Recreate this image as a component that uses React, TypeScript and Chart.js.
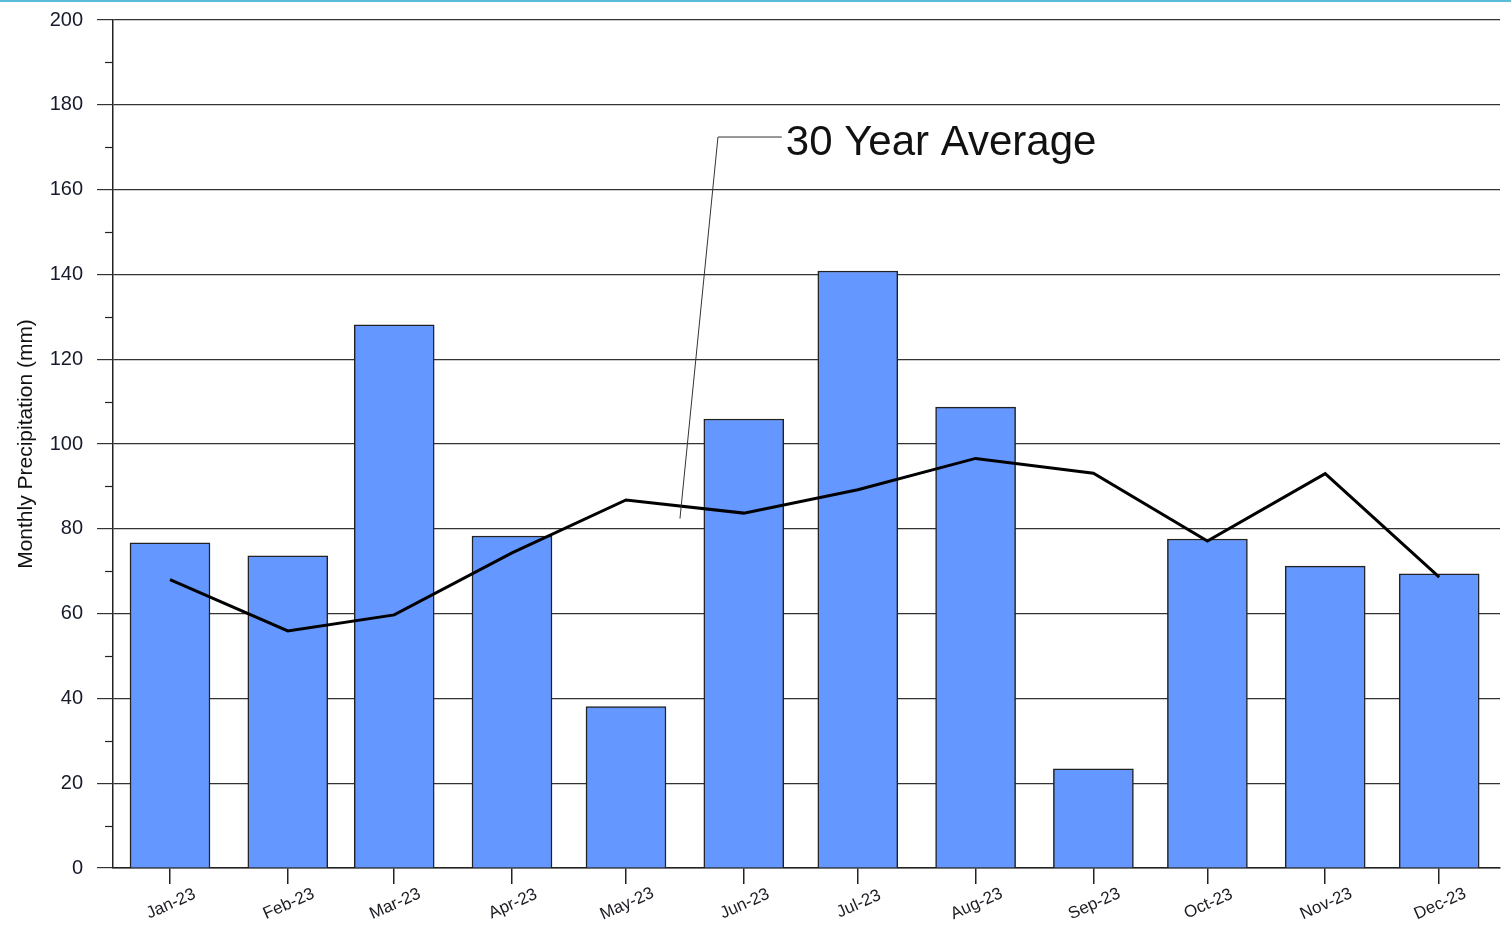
import React, { useEffect, useRef } from "react";
import { Chart, registerables } from "chart.js";

Chart.register(...registerables);

const monthLabels = ["Jan-23", "Feb-23", "Mar-23", "Apr-23", "May-23", "Jun-23", "Jul-23", "Aug-23", "Sep-23", "Oct-23", "Nov-23", "Dec-23"];
// day of year (mid-month) for each category
const monthDays = [15, 46, 74, 105, 135, 166, 196, 227, 258, 288, 319, 349];
const monthlyPrecip = [76.7, 73.6, 128.1, 78.3, 38.1, 105.9, 140.8, 108.7, 23.4, 77.6, 71.2, 69.4];
const thirtyYearAvg = [68.0, 55.9, 59.7, 74.3, 86.8, 83.7, 89.2, 96.6, 93.1, 77.1, 93.0, 68.6];
const yMajorTicks = [0, 20, 40, 60, 80, 100, 120, 140, 160, 180, 200];
const yMinorTicks = [10, 30, 50, 70, 90, 110, 130, 150, 170, 190];
const calloutText = "30 Year Average";
// callout leader path in data units (day, mm)
const calloutAnchor = { x: 149.2, y: 82.4 };
const calloutElbow = { x: 159.2, y: 172.4 };
const calloutEndX = 176.0;

const FONT = "'Liberation Sans', Arial, Helvetica, sans-serif";

const customDraw = {
  id: "customDraw",
  afterDraw(chart: any) {
    const ctx = chart.ctx;
    const xs = chart.scales.x;
    const ys = chart.scales.y;
    ctx.save();
    // minor y ticks
    ctx.strokeStyle = "#222";
    ctx.lineWidth = 1.2;
    for (const v of yMinorTicks) {
      const py = Math.round(ys.getPixelForValue(v)) + 0.5;
      ctx.beginPath();
      ctx.moveTo(xs.left - 8, py);
      ctx.lineTo(xs.left, py);
      ctx.stroke();
    }
    // x labels, rotated and centred on tick
    ctx.fillStyle = "#1a1a22";
    ctx.font = `17px ${FONT}`;
    ctx.textAlign = "center";
    ctx.textBaseline = "middle";
    monthDays.forEach((d, i) => {
      const px = xs.getPixelForValue(d);
      ctx.save();
      ctx.translate(px + 1, ys.bottom + 36);
      ctx.rotate((-24 * Math.PI) / 180);
      ctx.fillText(monthLabels[i], 0, 0);
      ctx.restore();
    });
    // callout
    ctx.strokeStyle = "#333";
    ctx.lineWidth = 1;
    ctx.beginPath();
    ctx.moveTo(xs.getPixelForValue(calloutAnchor.x), ys.getPixelForValue(calloutAnchor.y));
    ctx.lineTo(xs.getPixelForValue(calloutElbow.x), ys.getPixelForValue(calloutElbow.y));
    ctx.lineTo(xs.getPixelForValue(calloutEndX), ys.getPixelForValue(calloutElbow.y));
    ctx.stroke();
    ctx.fillStyle = "#111";
    ctx.font = `42px ${FONT}`;
    ctx.textAlign = "left";
    ctx.textBaseline = "middle";
    ctx.fillText(calloutText, xs.getPixelForValue(calloutEndX) + 4, ys.getPixelForValue(calloutElbow.y) + 6);
    ctx.restore();
  },
};

export default function App() {
  const ref = useRef<HTMLCanvasElement | null>(null);
  useEffect(() => {
    document.body.style.margin = "0";
    const chart = new Chart(ref.current as HTMLCanvasElement, {
      type: "bar",
      data: {
        datasets: [
          {
            type: "line",
            label: "30 Year Average",
            data: monthDays.map((d, i) => ({ x: d, y: thirtyYearAvg[i] })),
            borderColor: "#000",
            borderWidth: 3,
            pointRadius: 0,
            tension: 0,
            order: 0,
          } as any,
          {
            type: "bar",
            label: "Monthly Precipitation",
            data: monthDays.map((d, i) => ({ x: d, y: monthlyPrecip[i] })),
            backgroundColor: "#6497ff",
            borderColor: "#222",
            borderWidth: 1.5,
            barThickness: 80,
            order: 1,
          } as any,
        ],
      },
      options: {
        animation: false,
        responsive: false,
        maintainAspectRatio: false,
        layout: { padding: { top: 20, right: 11, left: 0, bottom: 0 } },
        plugins: { legend: { display: false }, tooltip: { enabled: false } },
        scales: {
          x: {
            type: "linear",
            min: 0,
            max: 365,
            offset: false,
            afterBuildTicks: (scale: any) => {
              scale.ticks = monthDays.map((v) => ({ value: v }));
            },
            afterFit: (scale: any) => {
              scale.height = 62;
              scale.paddingLeft = 0;
              scale.paddingRight = 0;
            },
            ticks: { display: false },
            grid: { drawOnChartArea: false, offset: false, tickLength: 16, color: "#222", lineWidth: 1.5 },
            border: { color: "#222", width: 1.5 },
          },
          y: {
            min: 0,
            max: 200,
            afterBuildTicks: (scale: any) => {
              scale.ticks = yMajorTicks.map((v) => ({ value: v }));
            },
            afterFit: (scale: any) => {
              scale.width = 113;
              scale.paddingTop = 0;
              scale.paddingBottom = 0;
            },
            ticks: {
              color: "#161a2a",
              font: { family: FONT, size: 20 },
              padding: 14,
            },
            grid: { color: "#333", lineWidth: 1.2, tickLength: 16 },
            border: { color: "#222", width: 1.5 },
            title: {
              display: true,
              text: "Monthly Precipitation (mm)",
              color: "#111",
              font: { family: FONT, size: 21 },
              padding: { top: 14, bottom: 0 },
            },
          },
        },
      },
      plugins: [customDraw],
    });
    return () => chart.destroy();
  }, []);
  return (
    <div style={{ position: "relative", width: 1511, height: 930, background: "#fff" }}>
      <div style={{ position: "absolute", left: 0, top: 0, width: 1511, height: 2, background: "#5bbcd8" }} />
      <canvas ref={ref} width={1511} height={930} style={{ display: "block" }} />
    </div>
  );
}
